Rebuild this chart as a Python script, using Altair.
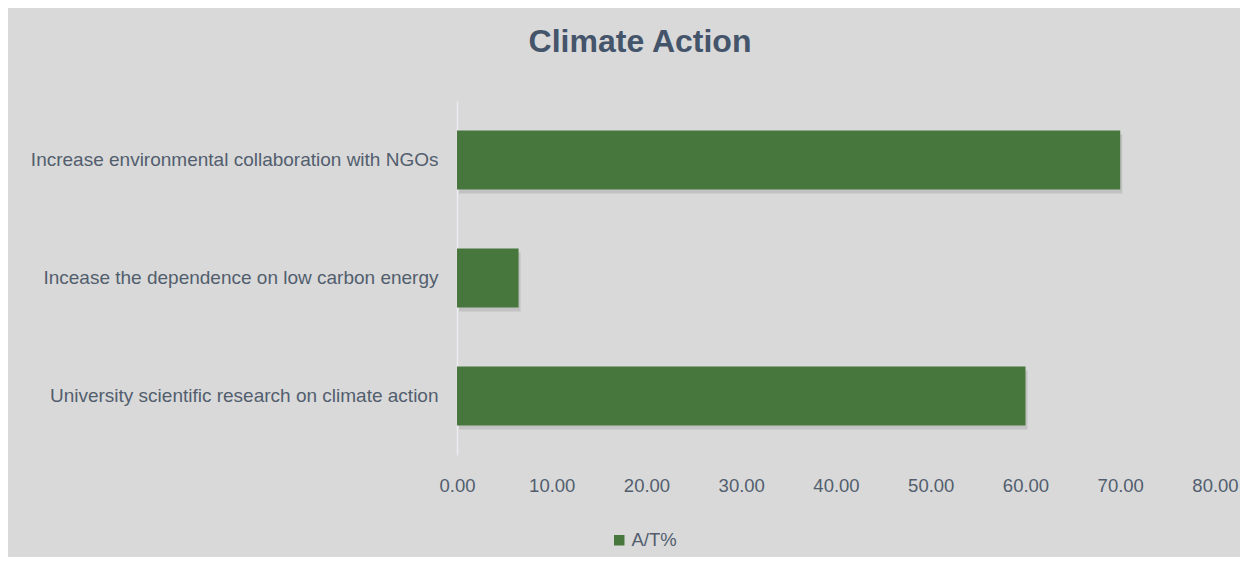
import altair as alt
import pandas as pd

categories = [
    "Increase environmental collaboration with NGOs",
    "Incease the dependence on low carbon energy",
    "University scientific research on climate action",
]
values = [70.0, 6.5, 60.0]
series_name = ["A/T%", "A/T%", "A/T%"]
tick_values = [0, 10, 20, 30, 40, 50, 60, 70, 80]

df = pd.DataFrame({"category": categories, "value": values, "series": series_name})

FONT = "Liberation Sans"
TXT = "#525e6e"
GREEN = "#47773c"

y_enc = alt.Y(
    "category:N",
    sort=categories,
    title=None,
    scale=alt.Scale(paddingInner=0.5, paddingOuter=0.25),
    axis=alt.Axis(
        labelFont=FONT, labelFontSize=19, labelColor=TXT, labelPadding=19,
        ticks=False, tickSize=0, domain=True, domainColor="#ececf3", domainWidth=1.5,
        grid=False, labelLimit=600,
    ),
)
x_enc = alt.X(
    "value:Q",
    title=None,
    scale=alt.Scale(domain=[0, 80], nice=False),
    axis=alt.Axis(
        values=tick_values, format=".2f", labelFont=FONT, labelFontSize=18.5,
        labelColor=TXT, labelPadding=21, labelFlush=False, labelOverlap=False,
        ticks=False, tickSize=0, domain=False, grid=False,
    ),
)

shadow = alt.Chart(df).mark_bar(color="#000000", opacity=0.10, xOffset=2, yOffset=4).encode(
    x=x_enc, y=y_enc
)
bars = alt.Chart(df).mark_bar().encode(
    x=x_enc,
    y=y_enc,
    color=alt.Color(
        "series:N",
        scale=alt.Scale(range=[GREEN]),
        legend=alt.Legend(
            title=None, orient="none", legendX=153, legendY=430, padding=0,
            symbolType="square", symbolSize=110, symbolStrokeWidth=0,
            labelFont=FONT, labelFontSize=18.5, labelColor=TXT, labelOffset=3,
        ),
    ),
)

chart = (
    alt.layer(shadow, bars)
    .properties(
        width=758,
        height=354,
        title=alt.TitleParams(
            "Climate Action", font=FONT, fontSize=32, fontWeight="bold", color="#44546a",
            anchor="middle", dx=-196, offset=17, baseline="alphabetic",
        ),
        autosize=alt.AutoSizeParams(type="none"),
        padding={"left": 449, "top": 93, "right": 25, "bottom": 102},
    )
    .configure(background="#d9d9d9")
    .configure_view(stroke=None)
)

chart.save("out.html", embed_options={"renderer": "svg", "actions": False})
